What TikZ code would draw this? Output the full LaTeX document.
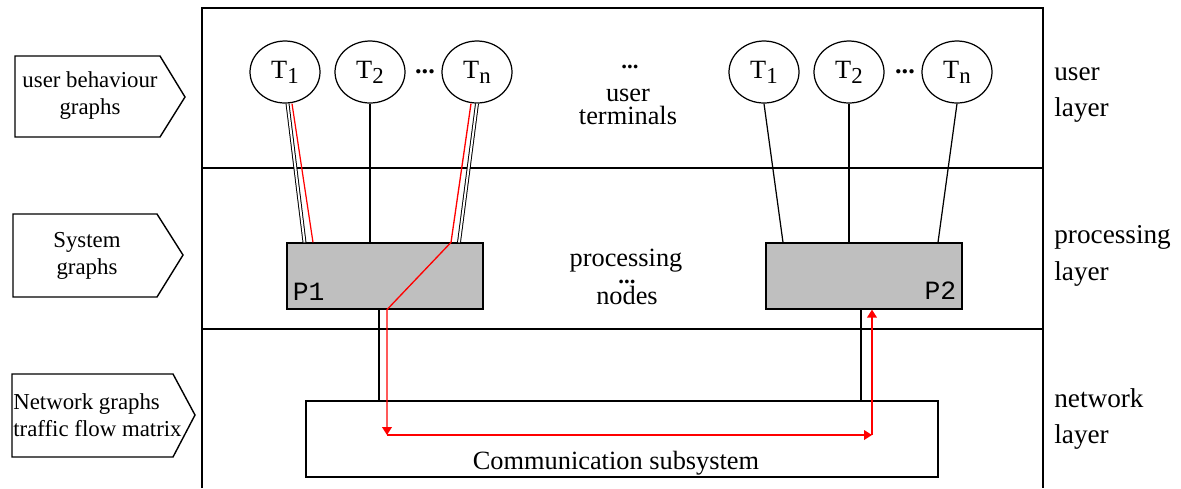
\documentclass[tikz,border=0pt]{standalone}
\usepackage{fontspec}
\setmainfont{Liberation Serif}
\setmonofont{Liberation Mono}
\usetikzlibrary{shapes.geometric,calc,arrows.meta}

\newcommand\tlab[1]{T\raisebox{-3pt}{\fontsize{13}{13}\selectfont #1}}

\tikzset{
  frame/.style={line width=0.6pt},
  term/.style={draw, ellipse, line width=0.7pt, minimum width=1.4cm, minimum height=1.24cm, inner sep=0pt, font=\fontsize{15}{18}\selectfont},
  proc/.style={draw, fill=gray!50, line width=0.7pt, minimum width=3.92cm, minimum height=1.32cm, inner sep=0pt},
  plab/.style={inner sep=0pt, font=\ttfamily\fontsize{15}{15}\selectfont},
  link/.style={line width=0.7pt},
  dlink/.style={double, line width=0.55pt, double distance=1.1pt},
  flow/.style={red, line width=0.75pt, -{Triangle[length=4.5pt,width=5.5pt]}},
  tag/.style={line width=0.8pt},
  tagtext/.style={align=center, font=\fontsize{13}{15.4}\selectfont},
  side/.style={anchor=west, align=left, inner sep=0pt, font=\fontsize{15.5}{21}\selectfont},
  dots/.style={inner sep=0pt, font=\bfseries\fontsize{13}{13}\selectfont},
  mid/.style={inner sep=0pt, anchor=base}
}

\begin{document}
\begin{tikzpicture}[x=0.02cm, y=-0.02cm, font=\fontsize{15}{20}\selectfont]
\useasboundingbox (0,0) rectangle (1181,488);

% layers
\draw[frame] (202,488) -- (202,8) -- (1043,8) -- (1043,488);
\draw[frame] (202,168) -- (1043,168);
\draw[frame] (202,329) -- (1043,329);

% graph tags on the left
\draw[tag] (15,56) -- (160,56) -- (185,97) -- (160,137) -- (15,137) -- cycle;
\node[tagtext] (ubg) at (90,96) {user behaviour\\graphs};
\draw[tag] (13,214) -- (157,214) -- (183,255) -- (157,297) -- (13,297) -- cycle;
\node[tagtext] (sg) at (87,256) {System\\graphs};
\draw[tag] (12,374) -- (173,374) -- (195,415) -- (173,457) -- (12,457) -- cycle;
\node[tagtext, align=left, anchor=west, inner sep=0pt] (ng) at (13,415) {Network graphs\\traffic flow matrix};

% layer names
\node[side] (ul) at (1054,95) {user\\layer};
\node[side] (pl) at (1054,256) {processing\\layer};
\node[side] (nl) at (1054,419) {network\\layer};

% user terminals
\node[term] (ta1) at (285,72) {\tlab{1}};
\node[term] (ta2) at (370,72) {\tlab{2}};
\node[term] (tan) at (477,72) {\tlab{n}};
\node[dots, font=\bfseries\fontsize{15}{15}\selectfont] (da) at (425,72) {...};
\node[term] (tb1) at (764,72) {\tlab{1}};
\node[term] (tb2) at (849,72) {\tlab{2}};
\node[term] (tbn) at (957,72) {\tlab{n}};
\node[dots, font=\bfseries\fontsize{15}{15}\selectfont] (db) at (905,72) {...};
\node[dots] (dut) at (630,67) {...};
\node[align=center, font=\fontsize{15}{13.5}\selectfont] (ut) at (628,107) {user\\terminals};

% processing nodes
\node[proc] (p1) at (385,276) {};
\node[proc] (p2) at (864,276) {};
\node[plab, anchor=base west] (p1lab) at ($(p1.south west)+(6,-9)$) {P1};
\node[plab, anchor=base east] (p2lab) at ($(p2.south east)+(-6,-10)$) {P2};
\node[mid] (pn1) at (626,266) {processing};
\node[dots] (dpn) at (627,282) {...};
\node[mid] (pn2) at (627,304) {nodes};

% communication subsystem
\node[draw, line width=0.7pt, minimum width=12.64cm, minimum height=1.52cm] (comm) at (622,439) {};
\node[anchor=base] (commlab) at ($(comm.south)+(-6,-8)$) {Communication subsystem};

% terminals to P1
\draw[dlink] ($(ta1.south)+(2.5,0)$) -- ($(p1.north)+(-80.5,0)$);
\draw[link, red] ($(ta1.south)+(7,0)$) -- ($(p1.north)+(-72,0)$);
\draw[link] (ta2.south) -- (ta2.south |- p1.north);
\draw[dlink] (tan.south) -- ($(p1.north)+(74,0)$);

% terminals to P2
\draw[link] (tb1.south) -- ($(p2.north)+(-81,0)$);
\draw[link] (tb2.south) -- (tb2.south |- p2.north);
\draw[link] (tbn.south) -- ($(p2.north)+(74,0)$);

% processing nodes to network
\coordinate (d1) at ($(p1.south)+(-6,0)$);
\coordinate (d2) at ($(p2.south)+(-3,0)$);
\draw[link] (d1) -- (d1 |- comm.north);
\draw[link] (d2) -- (d2 |- comm.north);

% red flow
\coordinate (c1) at (387,435);
\coordinate (c2) at (872,435);
\draw[flow] ($(tan.south)+(-6,0)$) -- ($(p1.north)+(66,0)$) -- ($(p1.south)+(2,0)$) -- (c1);
\draw[flow] (c1) -- (c2);
\draw[flow] (c2) -- (c2 |- p2.south);
\end{tikzpicture}
\end{document}
